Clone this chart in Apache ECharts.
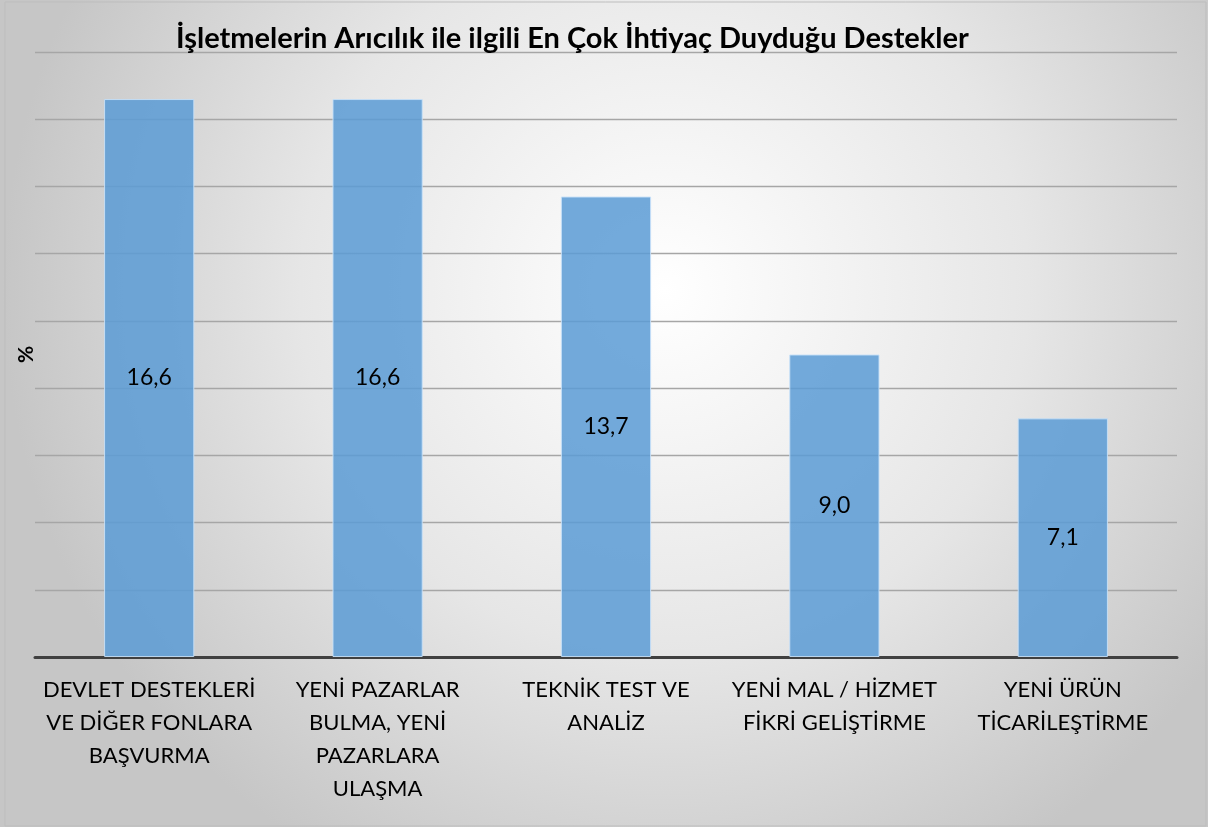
<!DOCTYPE html>
<html>
<head>
<meta charset="utf-8">
<script src="https://cdn.jsdelivr.net/npm/echarts@6/dist/echarts.min.js"></script>
<style>
  html, body { margin: 0; padding: 0; background: #ffffff; }
  #chart { width: 1208px; height: 827px; }
</style>
</head>
<body>
<div id="chart"></div>
<script>
// Support types most needed by beekeeping businesses (%)
const categories = [
  'DEVLET DESTEKLERİ\nVE DİĞER FONLARA\nBAŞVURMA',
  'YENİ PAZARLAR\nBULMA, YENİ\nPAZARLARA\nULAŞMA',
  'TEKNİK TEST VE\nANALİZ',
  'YENİ MAL / HİZMET\nFİKRİ GELİŞTİRME',
  'YENİ ÜRÜN\nTİCARİLEŞTİRME'
];
const values = [16.6, 16.6, 13.7, 9.0, 7.1];

const titleText = 'İşletmelerin Arıcılık ile ilgili En Çok İhtiyaç Duyduğu Destekler';
const fontFamily = 'Lato, "Open Sans", "Noto Sans", sans-serif';

const chart = echarts.init(document.getElementById('chart'), null, { renderer: 'canvas' });

chart.setOption({
  backgroundColor: {
    type: 'radial', x: 0.55, y: 0.35, r: 0.8,
    colorStops: [
      { offset: 0, color: '#ffffff' },
      { offset: 0.55, color: '#e6e6e6' },
      { offset: 1, color: '#c6c6c6' }
    ]
  },
  animation: false,
  title: {
    text: titleText,
    left: 171,
    top: 19,
    textStyle: { fontFamily, fontSize: 29, fontWeight: 'bold', color: '#000000' }
  },
  graphic: [{
    type: 'rect',
    shape: { x: 5, y: 2, width: 1201, height: 824 },
    style: { fill: 'none', stroke: '#bdbdbd', lineWidth: 1 },
    silent: true
  }],
  grid: { left: 35, right: 31, top: 52, bottom: 170 },
  xAxis: {
    type: 'category',
    data: categories,
    axisLine: { show: true, lineStyle: { color: '#404040', width: 3 } },
    axisTick: { show: false },
    axisLabel: {
      interval: 0,
      margin: 16,
      fontFamily,
      fontSize: 22,
      lineHeight: 33,
      color: '#000000',
      align: 'center'
    }
  },
  yAxis: {
    type: 'value',
    min: 0,
    max: 18,
    interval: 2,
    name: '%',
    nameLocation: 'middle',
    nameGap: -2,
    nameRotate: 90,
    nameTextStyle: { fontFamily, fontSize: 21, fontWeight: 'bold', color: '#000000' },
    axisLine: { show: false },
    axisTick: { show: false },
    axisLabel: { show: false },
    splitLine: { lineStyle: { color: '#a6a6a6', width: 1.3 } }
  },
  series: [{
    type: 'bar',
    data: values,
    barWidth: '39.5%',
    itemStyle: {
      color: 'rgba(91,155,213,0.85)',
      borderColor: 'rgba(200,225,248,0.9)',
      borderWidth: 1
    },
    label: {
      show: true,
      position: 'inside',
      fontFamily,
      fontSize: 23,
      color: '#000000',
      formatter: p => p.value.toFixed(1).replace('.', ',')
    }
  }]
});
</script>
</body>
</html>
